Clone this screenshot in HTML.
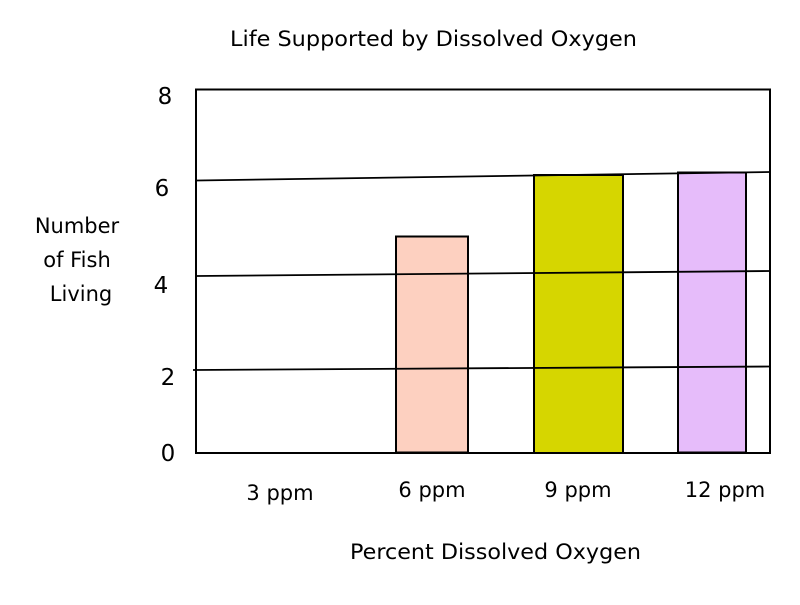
<!DOCTYPE html>
<html><head><style>body{margin:0;background:#fff}svg text{font-family:"Comic Sans MS","DejaVu Sans","Liberation Sans",sans-serif;fill:#000}</style></head><body>
<svg width="800" height="600" xmlns="http://www.w3.org/2000/svg">
<rect x="0" y="0" width="800" height="600" fill="#fff"/>
<rect x="396" y="236.5" width="72" height="216" fill="#fdd0c0" stroke="#000" stroke-width="2"/>
<rect x="534" y="175" width="89" height="278" fill="#d6d600" stroke="#000" stroke-width="2"/>
<rect x="678" y="172.5" width="68" height="280" fill="#e6bcfa" stroke="#000" stroke-width="2"/>
<rect x="196" y="89.5" width="574" height="363.5" fill="none" stroke="#000" stroke-width="2"/>
<g stroke="#000" stroke-width="1.8">
<line x1="197" y1="180.5" x2="770" y2="172"/>
<line x1="197" y1="276" x2="770" y2="271"/>
<line x1="193" y1="370" x2="770" y2="366.5"/>
</g>
<g font-size="21">
<text x="230" y="46" textLength="407" lengthAdjust="spacingAndGlyphs">Life Supported by Dissolved Oxygen</text>
<text x="165" y="104" text-anchor="middle" font-size="23">8</text>
<text x="162" y="196" text-anchor="middle" font-size="23">6</text>
<text x="161" y="293" text-anchor="middle" font-size="23">4</text>
<text x="168" y="385" text-anchor="middle" font-size="23">2</text>
<text x="168" y="461" text-anchor="middle" font-size="23">0</text>
<text x="77" y="233" text-anchor="middle">Number</text>
<text x="77" y="267" text-anchor="middle">of Fish</text>
<text x="81" y="301" text-anchor="middle">Living</text>
<text x="280" y="500" text-anchor="middle">3 ppm</text>
<text x="432" y="497" text-anchor="middle">6 ppm</text>
<text x="578" y="497" text-anchor="middle">9 ppm</text>
<text x="725" y="497" text-anchor="middle">12 ppm</text>
<text x="350" y="559" textLength="291" lengthAdjust="spacingAndGlyphs">Percent Dissolved Oxygen</text>
</g>
</svg>
</body></html>
